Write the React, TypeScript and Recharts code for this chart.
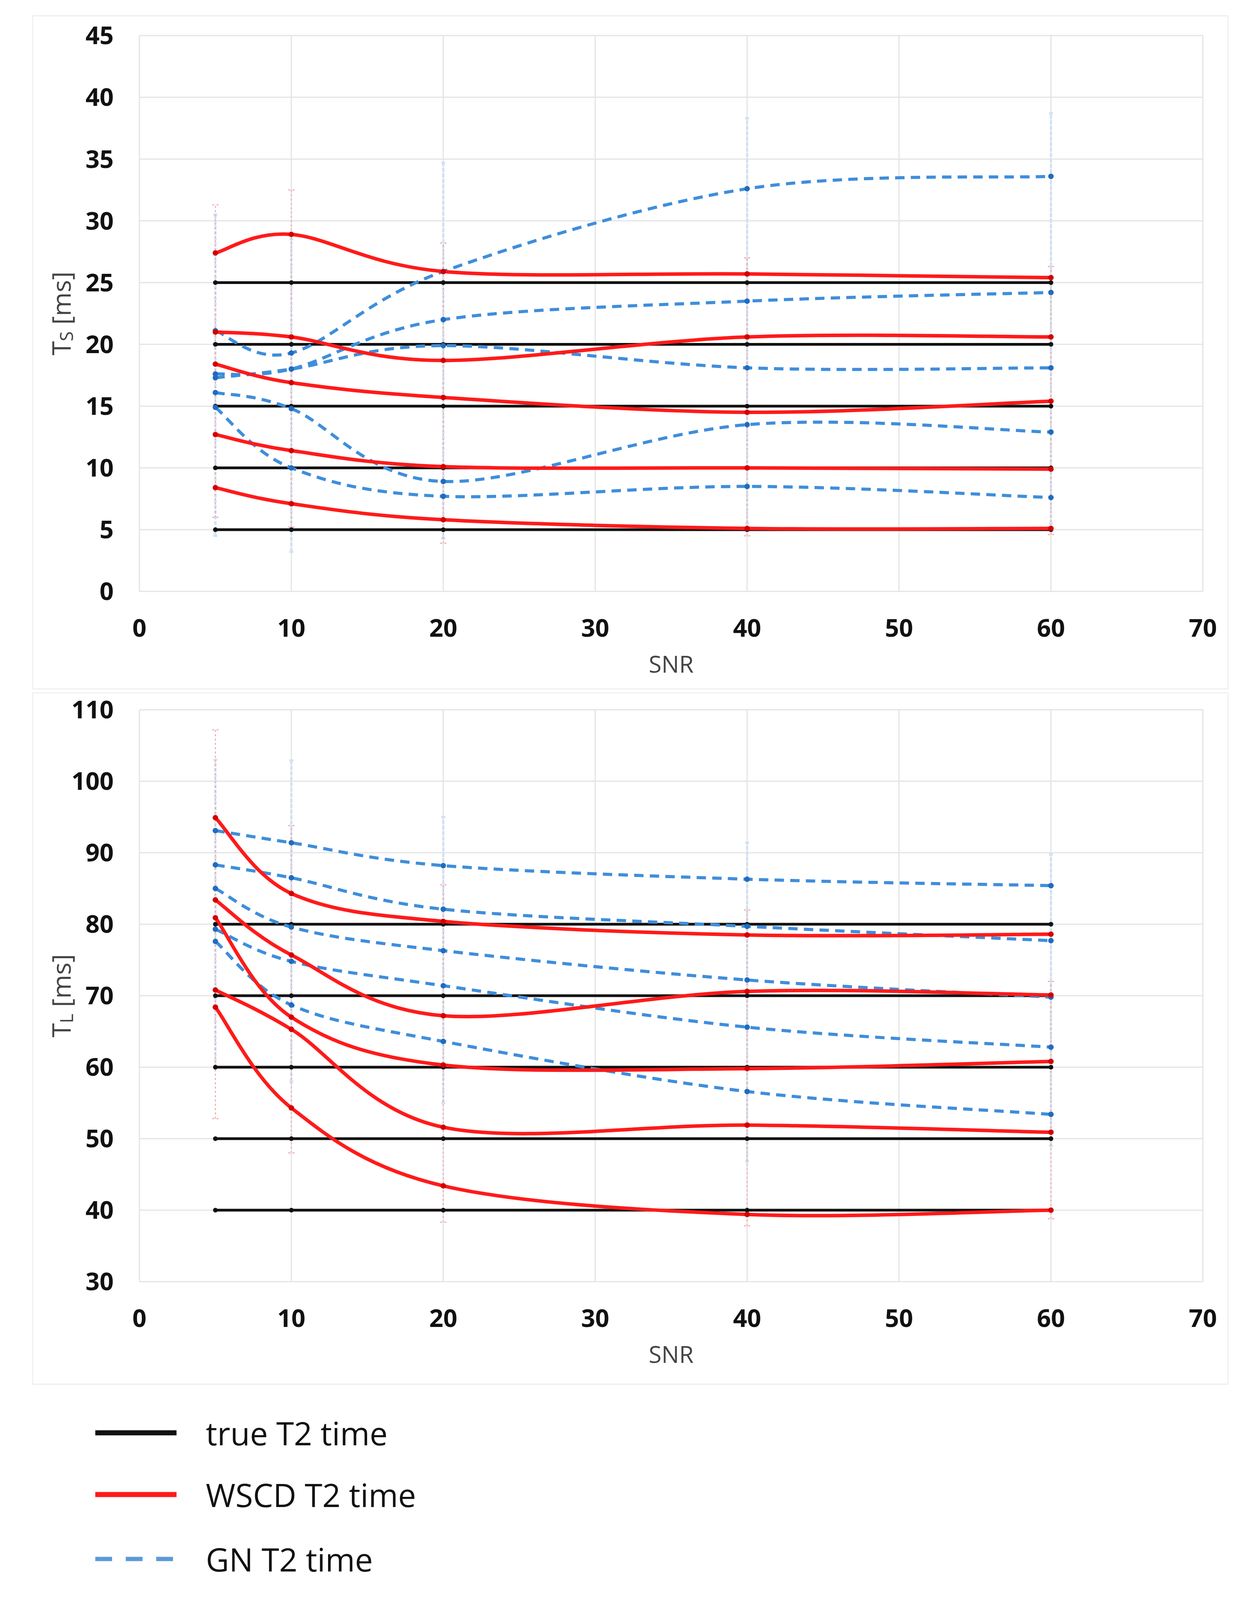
import React from 'react';
import { LineChart, Line, XAxis, YAxis, CartesianGrid, ErrorBar } from 'recharts';

// SNR levels used in the simulation
const snr = [5, 10, 20, 40, 60];
const snrTicks = [0, 10, 20, 30, 40, 50, 60, 70];

// ---- short component T_S ----
const tsTicks = [0, 5, 10, 15, 20, 25, 30, 35, 40, 45];
const tsTrue = [5, 10, 15, 20, 25];
const tsWscd1 = [27.4, 28.9, 25.9, 25.7, 25.4];
const tsWscd2 = [21.0, 20.6, 18.7, 20.6, 20.6];
const tsWscd3 = [18.4, 16.9, 15.7, 14.5, 15.4];
const tsWscd4 = [12.7, 11.4, 10.1, 10.0, 9.9];
const tsWscd5 = [8.4, 7.1, 5.8, 5.1, 5.1];
const tsGn1 = [21.1, 19.3, 25.9, 32.6, 33.6];
const tsGn2 = [17.6, 18.0, 22.0, 23.5, 24.2];
const tsGn3 = [17.3, 18.0, 19.9, 18.1, 18.1];
const tsGn4 = [16.1, 14.8, 8.9, 13.5, 12.9];
const tsGn5 = [14.9, 10.0, 7.7, 8.5, 7.6];
// spread of the faint error bars (lowest / highest end at each SNR)
const tsRedLo = [6.0, 5.2, 3.9, 4.5, 4.6];
const tsRedHi = [31.3, 32.5, 28.2, 27.0, 26.3];
const tsBlueLo = [4.5, 3.2, 4.3, 5.5, 5.5];
const tsBlueHi = [30.5, 28.5, 34.7, 38.3, 38.7];

// ---- long component T_L ----
const tlTicks = [30, 40, 50, 60, 70, 80, 90, 100, 110];
const tlTrue = [40, 50, 60, 70, 80];
const tlWscd1 = [94.9, 84.3, 80.4, 78.5, 78.6];
const tlWscd2 = [83.4, 75.7, 67.2, 70.6, 70.1];
const tlWscd3 = [80.9, 67.0, 60.3, 59.8, 60.8];
const tlWscd4 = [70.8, 65.3, 51.6, 51.9, 50.9];
const tlWscd5 = [68.4, 54.3, 43.4, 39.4, 40.0];
const tlGn1 = [93.1, 91.4, 88.2, 86.3, 85.4];
const tlGn2 = [88.3, 86.5, 82.1, 79.7, 77.7];
const tlGn3 = [85.0, 79.6, 76.3, 72.2, 69.8];
const tlGn4 = [79.3, 74.8, 71.4, 65.6, 62.8];
const tlGn5 = [77.6, 68.7, 63.6, 56.6, 53.4];
const tlRedLo = [52.8, 48.0, 38.3, 37.8, 38.8];
const tlRedHi = [107.2, 93.8, 85.5, 82.0, 72.0];
const tlBlueLo = [60.0, 58.0, 55.0, 46.8, 49.0];
const tlBlueHi = [103.0, 102.9, 95.0, 91.4, 89.8];

const legendLabels = ['true T2 time', 'WSCD T2 time', 'GN T2 time'];

const BLACK = '#111111';
const RED = '#ff1a1a';
const BLUE = '#3f8edb';
const W = 3193;
const H = 4266;

// the visible viewport can be a bit shorter than the window: squeeze vertically to fit
const viewH = typeof window !== 'undefined' && window.innerHeight ? window.innerHeight : H;
const fy = Math.min(1, viewH / H);
const sy = (v: number) => Math.round(v * fy);

// Excel-like smoothed line (Catmull-Rom through the points)
const excelSmooth = (context: any) => {
  let xs: number[] = [];
  let ys: number[] = [];
  return {
    areaStart() {},
    areaEnd() {},
    lineStart() {
      xs = [];
      ys = [];
    },
    point(x: number, y: number) {
      xs.push(+x);
      ys.push(+y);
    },
    lineEnd() {
      const n = xs.length;
      if (!n) return;
      context.moveTo(xs[0], ys[0]);
      for (let i = 0; i < n - 1; i++) {
        const a = Math.max(i - 1, 0);
        const d = Math.min(i + 2, n - 1);
        context.bezierCurveTo(
          xs[i] + (xs[i + 1] - xs[a]) / 6,
          ys[i] + (ys[i + 1] - ys[a]) / 6,
          xs[i + 1] - (xs[d] - xs[i]) / 6,
          ys[i + 1] - (ys[d] - ys[i]) / 6,
          xs[i + 1],
          ys[i + 1]
        );
      }
    },
  };
};

const buildRows = (
  trueLevels: number[],
  wscd: number[][],
  gn: number[][],
  redLo: number[],
  redHi: number[],
  blueLo: number[],
  blueHi: number[]
) =>
  snr.map((x, i) => {
    const row: any = { snr: x };
    trueLevels.forEach((v, k) => (row[`t${k}`] = v));
    wscd.forEach((s, k) => (row[`w${k}`] = s[i]));
    gn.forEach((s, k) => (row[`g${k}`] = s[i]));
    row.redLo = redLo[i];
    row.redErr = [0, redHi[i] - redLo[i]];
    row.blueLo = blueLo[i];
    row.blueErr = [0, blueHi[i] - blueLo[i]];
    return row;
  });

const tsRows = buildRows(
  tsTrue,
  [tsWscd1, tsWscd2, tsWscd3, tsWscd4, tsWscd5],
  [tsGn1, tsGn2, tsGn3, tsGn4, tsGn5],
  tsRedLo, tsRedHi, tsBlueLo, tsBlueHi
);
const tlRows = buildRows(
  tlTrue,
  [tlWscd1, tlWscd2, tlWscd3, tlWscd4, tlWscd5],
  [tlGn1, tlGn2, tlGn3, tlGn4, tlGn5],
  tlRedLo, tlRedHi, tlBlueLo, tlBlueHi
);

const YTitle = (props: any) => {
  const { viewBox, sub } = props;
  const cx = viewBox.x - 2;
  const cy = viewBox.y + viewBox.height / 2;
  return (
    <text
      x={cx}
      y={cy}
      transform={`rotate(-90, ${cx}, ${cy})`}
      textAnchor="middle"
      dominantBaseline="central"
      fill="#444"
      fontSize={66}
      fontFamily="Open Sans"
    >
      T<tspan dy={14} fontSize={46}>{sub}</tspan>
      <tspan dy={-14}> [ms]</tspan>
    </text>
  );
};

const tickStyle = { fill: '#111', fontSize: 63, fontWeight: 700, fontFamily: 'Open Sans' };

const Panel = ({ top, rows, domain, yTicks, sub, marginTop, plotH }: any) => {
  const chartH = sy(1850);
  const mTop = sy(marginTop);
  const pH = sy(plotH);
  const xAxisH = sy(217);
  return (
    <div style={{ position: 'absolute', left: 0, top: sy(top) }}>
      <LineChart
        width={W}
        height={chartH}
        data={rows}
        margin={{ top: mTop, right: 113, left: 157, bottom: chartH - mTop - pH - xAxisH }}
      >
        <CartesianGrid stroke="#e4e4e4" strokeWidth={3} />
        <XAxis
          type="number"
          dataKey="snr"
          domain={[0, 70]}
          ticks={snrTicks}
          axisLine={false}
          tickLine={false}
          tickSize={0}
          tickMargin={sy(74)}
          height={xAxisH}
          tick={tickStyle}
          label={{ value: 'SNR', position: 'insideBottom', offset: 0, fill: '#444', fontSize: 60, fontFamily: 'Open Sans' }}
        />
        <YAxis
          type="number"
          domain={domain}
          ticks={yTicks}
          axisLine={false}
          tickLine={false}
          tickSize={0}
          tickMargin={66}
          width={200}
          tick={tickStyle}
          label={<YTitle sub={sub} />}
        />

        {/* faint error bars */}
        <Line dataKey="blueLo" stroke="none" dot={false} isAnimationActive={false}>
          <ErrorBar dataKey="blueErr" width={5} stroke="#d3e2f4" strokeWidth={6} strokeDasharray="10 4" isAnimationActive={false} />
        </Line>
        <Line dataKey="redLo" stroke="none" dot={false} isAnimationActive={false}>
          <ErrorBar dataKey="redErr" width={8} stroke="#eeb0b0" strokeWidth={3} strokeDasharray="5 6" isAnimationActive={false} />
        </Line>

        {[0, 1, 2, 3, 4].map((k) => (
          <Line
            key={`t${k}`}
            dataKey={`t${k}`}
            type="linear"
            stroke={BLACK}
            strokeWidth={7}
            dot={{ r: 6, fill: BLACK, stroke: 'none' }}
            isAnimationActive={false}
          />
        ))}
        {[0, 1, 2, 3, 4].map((k) => (
          <Line
            key={`g${k}`}
            dataKey={`g${k}`}
            type={excelSmooth as any}
            stroke={BLUE}
            strokeWidth={8}
            strokeDasharray="24 16"
            dot={{ r: 7, fill: '#1f6cc0', stroke: 'none', strokeDasharray: '0' }}
            isAnimationActive={false}
          />
        ))}
        {[0, 1, 2, 3, 4].map((k) => (
          <Line
            key={`w${k}`}
            dataKey={`w${k}`}
            type={excelSmooth as any}
            stroke={RED}
            strokeWidth={9}
            dot={{ r: 7, fill: '#d40000', stroke: 'none' }}
            isAnimationActive={false}
          />
        ))}
      </LineChart>
    </div>
  );
};

const frame = (top: number, bottom: number): React.CSSProperties => ({
  position: 'absolute',
  left: 82,
  top: sy(top),
  width: 3146 - 82,
  height: sy(bottom) - sy(top),
  border: '3px solid #f0f0f0',
  boxSizing: 'border-box',
});

const legendY = [3820, 3985, 4157];

export default function App() {
  return (
    <div style={{ position: 'relative', width: W, height: sy(H), background: '#fff', overflow: 'hidden' }}>
      <style>{'body{margin:0}'}</style>
      <div style={frame(41, 1838)} />
      <div style={frame(1846, 3692)} />
      <Panel top={0} rows={tsRows} domain={[0, 45]} yTicks={tsTicks} sub="S" marginTop={95} plotH={1482} />
      <Panel top={1830} rows={tlRows} domain={[30, 110]} yTicks={tlTicks} sub="L" marginTop={62} plotH={1525} />

      <svg width={W} height={sy(H)} style={{ position: 'absolute', left: 0, top: 0, pointerEvents: 'none' }}>
        {legendLabels.map((label, i) => (
          <g key={label}>
            <line
              x1={244}
              x2={452}
              y1={sy(legendY[i])}
              y2={sy(legendY[i])}
              stroke={i === 0 ? BLACK : i === 1 ? RED : '#5b9bd5'}
              strokeWidth={i === 2 ? 11 : 13}
              strokeDasharray={i === 2 ? '43 35' : undefined}
            />
            <text
              x={527}
              y={sy(legendY[i])}
              dominantBaseline="central"
              fontSize={82}
              fontFamily="Open Sans"
              fill="#111"
            >
              {label}
            </text>
          </g>
        ))}
      </svg>
    </div>
  );
}
